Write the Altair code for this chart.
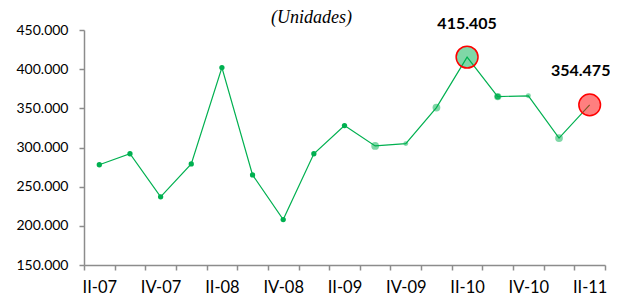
import altair as alt
import pandas as pd

quarters = ["II-07", "III-07", "IV-07", "I-08", "II-08", "III-08", "IV-08", "I-09",
            "II-09", "III-09", "IV-09", "I-10", "II-10", "III-10", "IV-10", "I-11", "II-11"]
units = [278000, 292000, 237000, 279000, 402000, 265000, 208000, 292000,
         328000, 302000, 305000, 351000, 415405, 365000, 366000, 312000, 354475]
faded_large = ["III-09", "I-10", "I-11"]
faded_small = ["IV-09", "IV-10"]
outlined = ["III-10"]
peak_quarter = ["II-10"]
last_quarter = ["II-11"]
y_ticks = [150000, 200000, 250000, 300000, 350000, 400000, 450000]
title_text = ["(Unidades)"]

df = pd.DataFrame({"quarter": quarters, "units": units})
df["label"] = [f"{v:,}".replace(",", ".") for v in units]

GREEN = "#00B050"
RED = "#FF0000"
AXIS = "#8C8C8C"

x_enc = alt.X(
    "quarter:N", sort=quarters, bandPosition=0.5,
    scale=alt.Scale(type="band", paddingInner=0, paddingOuter=0),
    axis=alt.Axis(
        title=None, labelAngle=0, tickBand="extent",
        labelExpr="test(/^(II|IV)-/, datum.value) ? datum.value : ''",
        domainColor=AXIS, domainWidth=1.5, tickColor=AXIS, tickWidth=1.5, tickSize=5,
        labelFont="Lato", labelFontSize=16.5, labelColor="#000000", labelPadding=9,
    ),
)
y_enc = alt.Y(
    "units:Q",
    scale=alt.Scale(domain=[150000, 450000], nice=False, zero=False),
    axis=alt.Axis(
        title=None, values=y_ticks, grid=False,
        labelExpr="replace(format(datum.value, ',.0f'), ',', '.')",
        domainColor=AXIS, domainWidth=1.5, tickColor=AXIS, tickWidth=1.5, tickSize=5,
        labelFont="Lato", labelFontSize=14, labelColor="#000000", labelPadding=11,
    ),
)

base = alt.Chart(df).encode(x=x_enc, y=y_enc)

line = base.mark_line(color=GREEN, strokeWidth=1.2)

def in_list(lst):
    return alt.FieldOneOfPredicate(field="quarter", oneOf=lst)

normal_q = [q for q in quarters if q not in faded_large + faded_small + outlined + peak_quarter + last_quarter]

dark_pts = base.transform_filter(in_list(normal_q)).mark_circle(size=28, color=GREEN, opacity=1)
faded_l = base.transform_filter(in_list(faded_large)).mark_circle(size=60, color=GREEN, opacity=0.5)
faded_s = base.transform_filter(in_list(faded_small)).mark_circle(size=24, color=GREEN, opacity=0.5)
outl = base.transform_filter(in_list(outlined)).mark_circle(
    size=34, fill=GREEN, fillOpacity=0.9, stroke=GREEN, strokeOpacity=0.5, strokeWidth=1.5)
peak = base.transform_filter(in_list(peak_quarter)).mark_circle(
    size=480, fill=GREEN, fillOpacity=0.5, stroke=RED, strokeWidth=1.5, strokeOpacity=1)
last = base.transform_filter(in_list(last_quarter)).mark_circle(
    size=470, fill=RED, fillOpacity=0.5, stroke=RED, strokeWidth=1.5, strokeOpacity=1)

peak_lbl = base.transform_filter(in_list(peak_quarter)).mark_text(
    font="Lato", fontSize=16, fontWeight="bold", color="#000000", dy=-33, dx=0
).encode(text="label:N")
last_lbl = base.transform_filter(in_list(last_quarter)).mark_text(
    font="Lato", fontSize=16, fontWeight="bold", color="#000000", dy=-34, dx=-9
).encode(text="label:N")

title = alt.Chart(pd.DataFrame({"t": title_text})).mark_text(
    font="Liberation Serif", fontStyle="italic", fontSize=18, color="#000000",
    align="center", baseline="middle",
).encode(text="t:N", x=alt.value(227.5), y=alt.value(-12.5))

chart = alt.layer(line, dark_pts, faded_l, faded_s, outl, peak, last, peak_lbl, last_lbl, title).properties(
    width=521, height=235,
    padding={"left": 76, "top": 22, "right": 5, "bottom": 36},
    autosize=alt.AutoSizeParams(type="none"),
    background="white",
).configure_view(stroke=None)

chart.save("out.html", embed_options={"renderer": "svg", "actions": False})
